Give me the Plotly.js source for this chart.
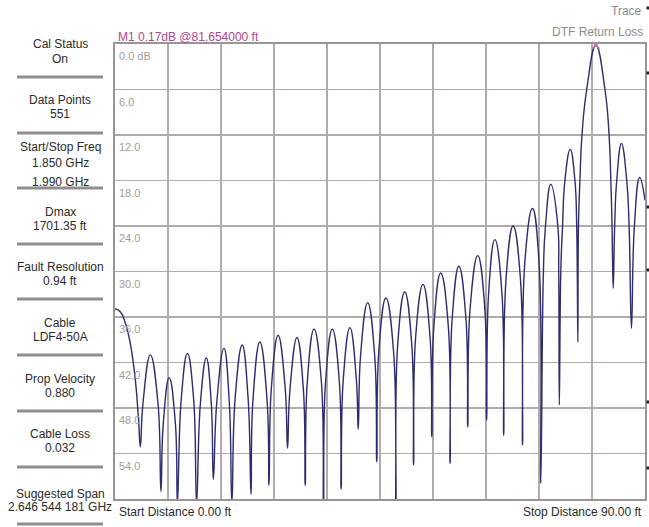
<!DOCTYPE html>
<html>
<head>
<meta charset="utf-8">
<script src="https://cdn.plot.ly/plotly-3.0.1.min.js"></script>
<style>
  html, body { margin: 0; padding: 0; background: #ffffff; }
  #chart { width: 649px; height: 527px; }
</style>
</head>
<body>
<div id="chart"></div>
<script>
// ---- Data (distance in ft, return loss in dB) ----
const distanceFt = [
  0.0, 0.9, 1.75, 2.6, 3.45, 4.0, 4.3,
  4.75, 6.0, 7.3, 7.8,
  8.2, 9.2, 10.25, 10.6,
  11.25, 12.3, 13.35, 13.85,
  14.5, 15.5, 16.35, 16.7,
  17.3, 18.5, 19.4, 19.85,
  20.4, 21.6, 22.6, 23.1,
  23.4, 24.6, 25.85, 26.15,
  26.55, 27.7, 28.9, 29.3,
  29.7, 30.9, 32.0, 32.3,
  32.65, 33.8, 35.05, 35.4,
  35.75, 36.9, 38.1, 38.4,
  38.75, 39.9, 41.0, 41.3,
  41.7, 42.9, 44.1, 44.45,
  44.8, 46.0, 47.3, 47.7,
  48.0, 49.2, 50.4, 50.7,
  51.05, 52.3, 53.5, 53.8,
  54.15, 55.3, 56.6, 56.9,
  57.25, 58.4, 59.6, 59.9,
  60.3, 61.6, 62.8, 63.1,
  63.45, 64.5, 65.7, 66.0,
  66.4, 67.6, 68.85, 69.2,
  69.6, 70.9, 72.0, 72.3,
  72.75, 73.1, 74.0, 75.2, 75.35, 75.45,
  75.7, 76.0, 76.4, 77.3, 78.1, 78.4, 78.5, 78.6,
  78.7, 78.95, 79.3, 80.1, 81.654, 83.2, 83.9, 84.2, 84.4, 84.6,
  84.85, 85.2, 86.0, 86.9, 87.3, 87.7,
  88.2, 89.1, 90.0
];
const returnLossDb = [
  34.9, 35.3, 36.8, 39.5, 44.3, 49.6, 53.1,
  47.4, 41.0, 47.4, 59.0,
  50.0, 44.0, 50.0, 60.5,
  46.8, 40.8, 46.8, 60.5,
  47.4, 41.4, 47.4, 57.4,
  47.1, 40.1, 47.1, 60.5,
  46.7, 39.7, 46.7, 59.4,
  47.3, 39.3, 47.3, 58.2,
  45.4, 38.4, 45.4, 53.3,
  45.7, 38.7, 45.7, 58.2,
  44.6, 37.6, 44.6, 60.5,
  44.6, 37.6, 44.6, 58.7,
  44.4, 37.4, 44.4, 50.8,
  41.1, 34.1, 41.1, 55.1,
  40.5, 33.5, 40.5, 60.5,
  39.7, 32.7, 39.7, 55.5,
  38.7, 31.7, 38.7, 51.8,
  37.2, 30.2, 37.2, 55.3,
  36.3, 29.3, 36.3, 50.5,
  34.9, 27.9, 34.9, 49.6,
  32.8, 25.8, 32.8, 51.6,
  31.0, 24.0, 31.0, 52.9,
  28.7, 21.7, 28.7, 57.9,
  30.0, 24.0, 18.5, 24.0, 30.0, 47.6,
  30.0, 24.0, 18.0, 13.9, 18.0, 24.0, 30.0, 39.3,
  24.0, 18.0, 12.0, 6.0, 0.17, 6.0, 12.0, 18.0, 24.0, 32.2,
  24.0, 18.0, 13.1, 18.0, 24.0, 37.5,
  24.0, 17.6, 20.6
];

const markerName = 'M1';
const markerDistance = 81.654;
const markerValue = 0.17;

const yTickVals = [0, 6, 12, 18, 24, 30, 36, 42, 48, 54];
const yTickLabels = ['0.0 dB', '6.0', '12.0', '18.0', '24.0', '30.0', '36.0', '42.0', '48.0', '54.0'];

const startDistance = 0.00;
const stopDistance = 90.00;

const sidePanelTitles = ['Cal Status', 'Data Points', 'Start/Stop Freq', 'Dmax', 'Fault Resolution',
                         'Cable', 'Prop Velocity', 'Cable Loss', 'Suggested Span'];
const sidePanelValues = [['On'], ['551'], ['1.850 GHz', '1.990 GHz'], ['1701.35 ft'], ['0.94 ft'],
                         ['LDF4-50A'], ['0.880'], ['0.032'], ['2.646 544 181 GHz']];

// ---- Layout geometry (pixels) ----
const W = 649, H = 527;
const L = 115, R = 4, T = 44, B = 28;
const PW = W - L - R, PH = H - T - B;
function px(x) { return (x - L) / PW; }
function py(y) { return 1 - (y - T) / PH; }

const FONT = '"Liberation Sans", Arial, Helvetica, sans-serif';

// side panel placement
const titleY = [44, 100, 147, 212, 267, 323, 379, 434, 494];
const sepY = [77, 133, 188, 244, 299, 355, 411, 467, 524];
const lineGap = [15, 14, 16, 14, 14, 14, 14, 14, 13];

const annotations = [];
const shapes = [];

sidePanelTitles.forEach(function (t, i) {
  annotations.push({
    xref: 'paper', yref: 'paper', x: px(60), y: py(titleY[i]),
    xanchor: 'center', yanchor: 'middle', showarrow: false,
    text: t, font: { family: FONT, size: 12, color: '#2a2a2a' }
  });
  sidePanelValues[i].forEach(function (v, j) {
    annotations.push({
      xref: 'paper', yref: 'paper', x: px(60), y: py(titleY[i] + lineGap[i] * (j + 1) + (j > 0 ? 3 : 0)),
      xanchor: 'center', yanchor: 'middle', showarrow: false,
      text: v, font: { family: FONT, size: 12, color: '#2a2a2a' }
    });
  });
  shapes.push({
    type: 'line', xref: 'paper', yref: 'paper',
    x0: px(17), x1: px(103), y0: py(sepY[i]), y1: py(sepY[i]),
    line: { color: '#8e8e8e', width: 3 }
  });
});

// y tick labels inside the plot
yTickVals.forEach(function (v, i) {
  annotations.push({
    xref: 'paper', yref: 'y', x: 0, y: v, xanchor: 'left', yanchor: 'top',
    xshift: 2, yshift: -4, showarrow: false,
    text: yTickLabels[i], font: { family: FONT, size: 11, color: '#a39c9c' }
  });
});

// header texts
annotations.push({
  xref: 'paper', yref: 'paper', x: px(116), y: py(37), xanchor: 'left', yanchor: 'middle',
  showarrow: false, text: markerName + ' ' + markerValue.toFixed(2) + 'dB @' + markerDistance.toFixed(6) + ' ft',
  font: { family: FONT, size: 12, color: '#b0468f' }
});
annotations.push({
  xref: 'paper', yref: 'paper', x: px(645), y: py(32), xanchor: 'right', yanchor: 'middle',
  showarrow: false, text: 'DTF Return Loss', font: { family: FONT, size: 12, color: '#8c8c8c' }
});
annotations.push({
  xref: 'paper', yref: 'paper', x: px(644), y: py(11), xanchor: 'right', yanchor: 'middle',
  showarrow: false, text: 'Trace', font: { family: FONT, size: 12, color: '#8c8c8c' }
});
annotations.push({
  xref: 'paper', yref: 'paper', x: px(117), y: py(512), xanchor: 'left', yanchor: 'middle',
  showarrow: false, text: 'Start Distance ' + startDistance.toFixed(2) + ' ft',
  font: { family: FONT, size: 12, color: '#2a2a2a' }
});
annotations.push({
  xref: 'paper', yref: 'paper', x: px(644), y: py(512), xanchor: 'right', yanchor: 'middle',
  showarrow: false, text: 'Stop Distance ' + stopDistance.toFixed(2) + ' ft',
  font: { family: FONT, size: 12, color: '#2a2a2a' }
});

// small dark indicator marks at the right edge
[8, 73, 207, 270, 402, 468].forEach(function (y) {
  shapes.push({
    type: 'rect', xref: 'paper', yref: 'paper',
    x0: px(646.5), x1: px(649), y0: py(y - 1.5), y1: py(y + 1.5),
    fillcolor: '#222222', line: { width: 0 }
  });
});

const traces = [
  {
    type: 'scatter', mode: 'lines', x: distanceFt, y: returnLossDb,
    line: { color: '#2e2c6c', width: 1.4, shape: 'spline', smoothing: 1.3 },
    hoverinfo: 'skip'
  },
  {
    type: 'scatter', mode: 'markers', x: [markerDistance], y: [markerValue],
    marker: { symbol: 'x-thin-open', size: 7, color: '#c26aa8', line: { color: '#c26aa8', width: 1.5 } },
    cliponaxis: false, hoverinfo: 'skip'
  }
];

const layout = {
  width: W, height: H,
  margin: { l: L, r: R, t: T, b: B, pad: 0 },
  paper_bgcolor: '#ffffff', plot_bgcolor: '#ffffff',
  showlegend: false,
  xaxis: {
    range: [startDistance, stopDistance], dtick: 9, tick0: 0,
    showticklabels: false, ticks: '', zeroline: false,
    showgrid: true, gridcolor: '#b3abab', gridwidth: 1.5,
    showline: true, mirror: true, linecolor: '#9c9393', linewidth: 2
  },
  yaxis: {
    range: [60, 0], dtick: 6, tick0: 0,
    showticklabels: false, ticks: '', zeroline: false,
    showgrid: true, gridcolor: '#b3abab', gridwidth: 1.5,
    showline: true, mirror: true, linecolor: '#9c9393', linewidth: 2
  },
  annotations: annotations,
  shapes: shapes
};

Plotly.newPlot('chart', traces, layout, { staticPlot: true, displayModeBar: false });
</script>
</body>
</html>
